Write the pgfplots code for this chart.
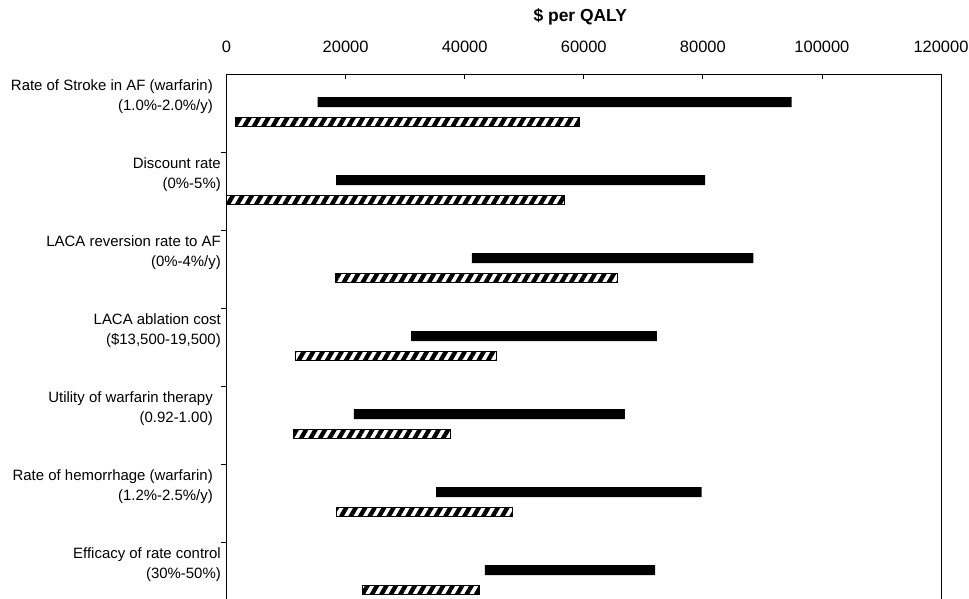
\documentclass[border=0pt]{standalone}
\usepackage{pgfplots}
\pgfplotsset{compat=1.18}
\usepackage{pgfplotstable}
\usepackage{fontspec}
\setmainfont{Liberation Sans}
\usetikzlibrary{patterns.meta}

\pgfplotstableread{
cat lo hi
0 15300 94900
1 18400 80400
2 41200 88500
3 31000 72300
4 21400 66900
5 35200 79800
6 43400 72000
}\blackdata
\pgfplotstableread{
cat lo hi
0 1600 59300
1 0 56800
2 18400 65700
3 11600 45400
4 11200 37600
5 18500 48100
6 22900 42400
}\hatchdata

\pgfplotsset{mygeom/.style={scale only axis, width=714.5bp, height=525bp,
  xmin=0, xmax=120000, ymin=-0.5, ymax=6.23, y dir=reverse}}

\begin{document}
\begin{tikzpicture}
\begin{axis}[mygeom, name=ax, xbar stacked, bar width=0.13,
  axis x line*=top, axis y line*=left,
  axis line style={line width=0.8pt},
  xtick={0,20000,40000,60000,80000,100000,120000},
  scaled x ticks=false,
  /pgf/number format/fixed,
  /pgf/number format/1000 sep={},
  /pgf/number format/assume math mode=true,
  xticklabel style={font=\fontsize{16.5}{19}\selectfont, anchor=base, yshift=21bp},
  xtick align=inside,
  major tick length=5bp,
  minor tick length=5bp,
  major x tick style={line width=0.8pt, black},
  ytick={0,1,2,3,4,5,6},
  yticklabels={
    {Rate of Stroke in AF (warfarin)\hspace*{8bp}\\(1.0\%-2.0\%/y)\hspace*{8bp}},
    {Discount rate\\(0\%-5\%)},
    {LACA reversion rate to AF\\(0\%-4\%/y)},
    {LACA ablation cost\\(\$13,500-19,500)},
    {Utility of warfarin therapy\hspace*{8bp}\\(0.92-1.00)\hspace*{8bp}},
    {Rate of hemorrhage (warfarin)\hspace*{8bp}\\(1.2\%-2.5\%/y)\hspace*{8bp}},
    {Efficacy of rate control\\(30\%-50\%)}},
  yticklabel style={font=\fontsize{15}{20}\selectfont, align=right, inner xsep=0.5bp, yshift=16.5bp},
  ytick align=outside,
  major y tick style={draw=none},
  minor ytick={0.5,1.5,2.5,3.5,4.5,5.5},
  minor y tick style={line width=0.8pt, black},
  title={\$ per QALY},
  title style={font=\bfseries\fontsize{17.5}{20}\selectfont, at={(0.5,1)}, anchor=base, yshift=47bp, xshift=-3.5bp},
  clip=false]
\addplot[draw=none, fill=none] table[x=lo, y expr=\thisrow{cat}-0.14] {\blackdata};
\addplot[draw=none, fill=black] table[x expr=\thisrow{hi}-\thisrow{lo}, y expr=\thisrow{cat}-0.14] {\blackdata};
\draw[line width=0.8pt] (rel axis cs:1,0) -- (rel axis cs:1,1);
\end{axis}
\begin{axis}[mygeom, at={(ax.south west)}, anchor=south west, hide axis, xbar stacked, bar width=0.115]
\addplot[draw=none, fill=none] table[x=lo, y expr=\thisrow{cat}+0.115] {\hatchdata};
\addplot[draw=black, line width=1.2pt, pattern={Lines[angle=60,distance=8.2bp,line width=4.3bp]}, pattern color=black] table[x expr=\thisrow{hi}-\thisrow{lo}, y expr=\thisrow{cat}+0.115] {\hatchdata};
\end{axis}
\pgfresetboundingbox
\path[use as bounding box] ([xshift=-226.5bp]ax.south west) rectangle ([xshift=28bp,yshift=74bp]ax.north east);
\end{tikzpicture}
\end{document}
